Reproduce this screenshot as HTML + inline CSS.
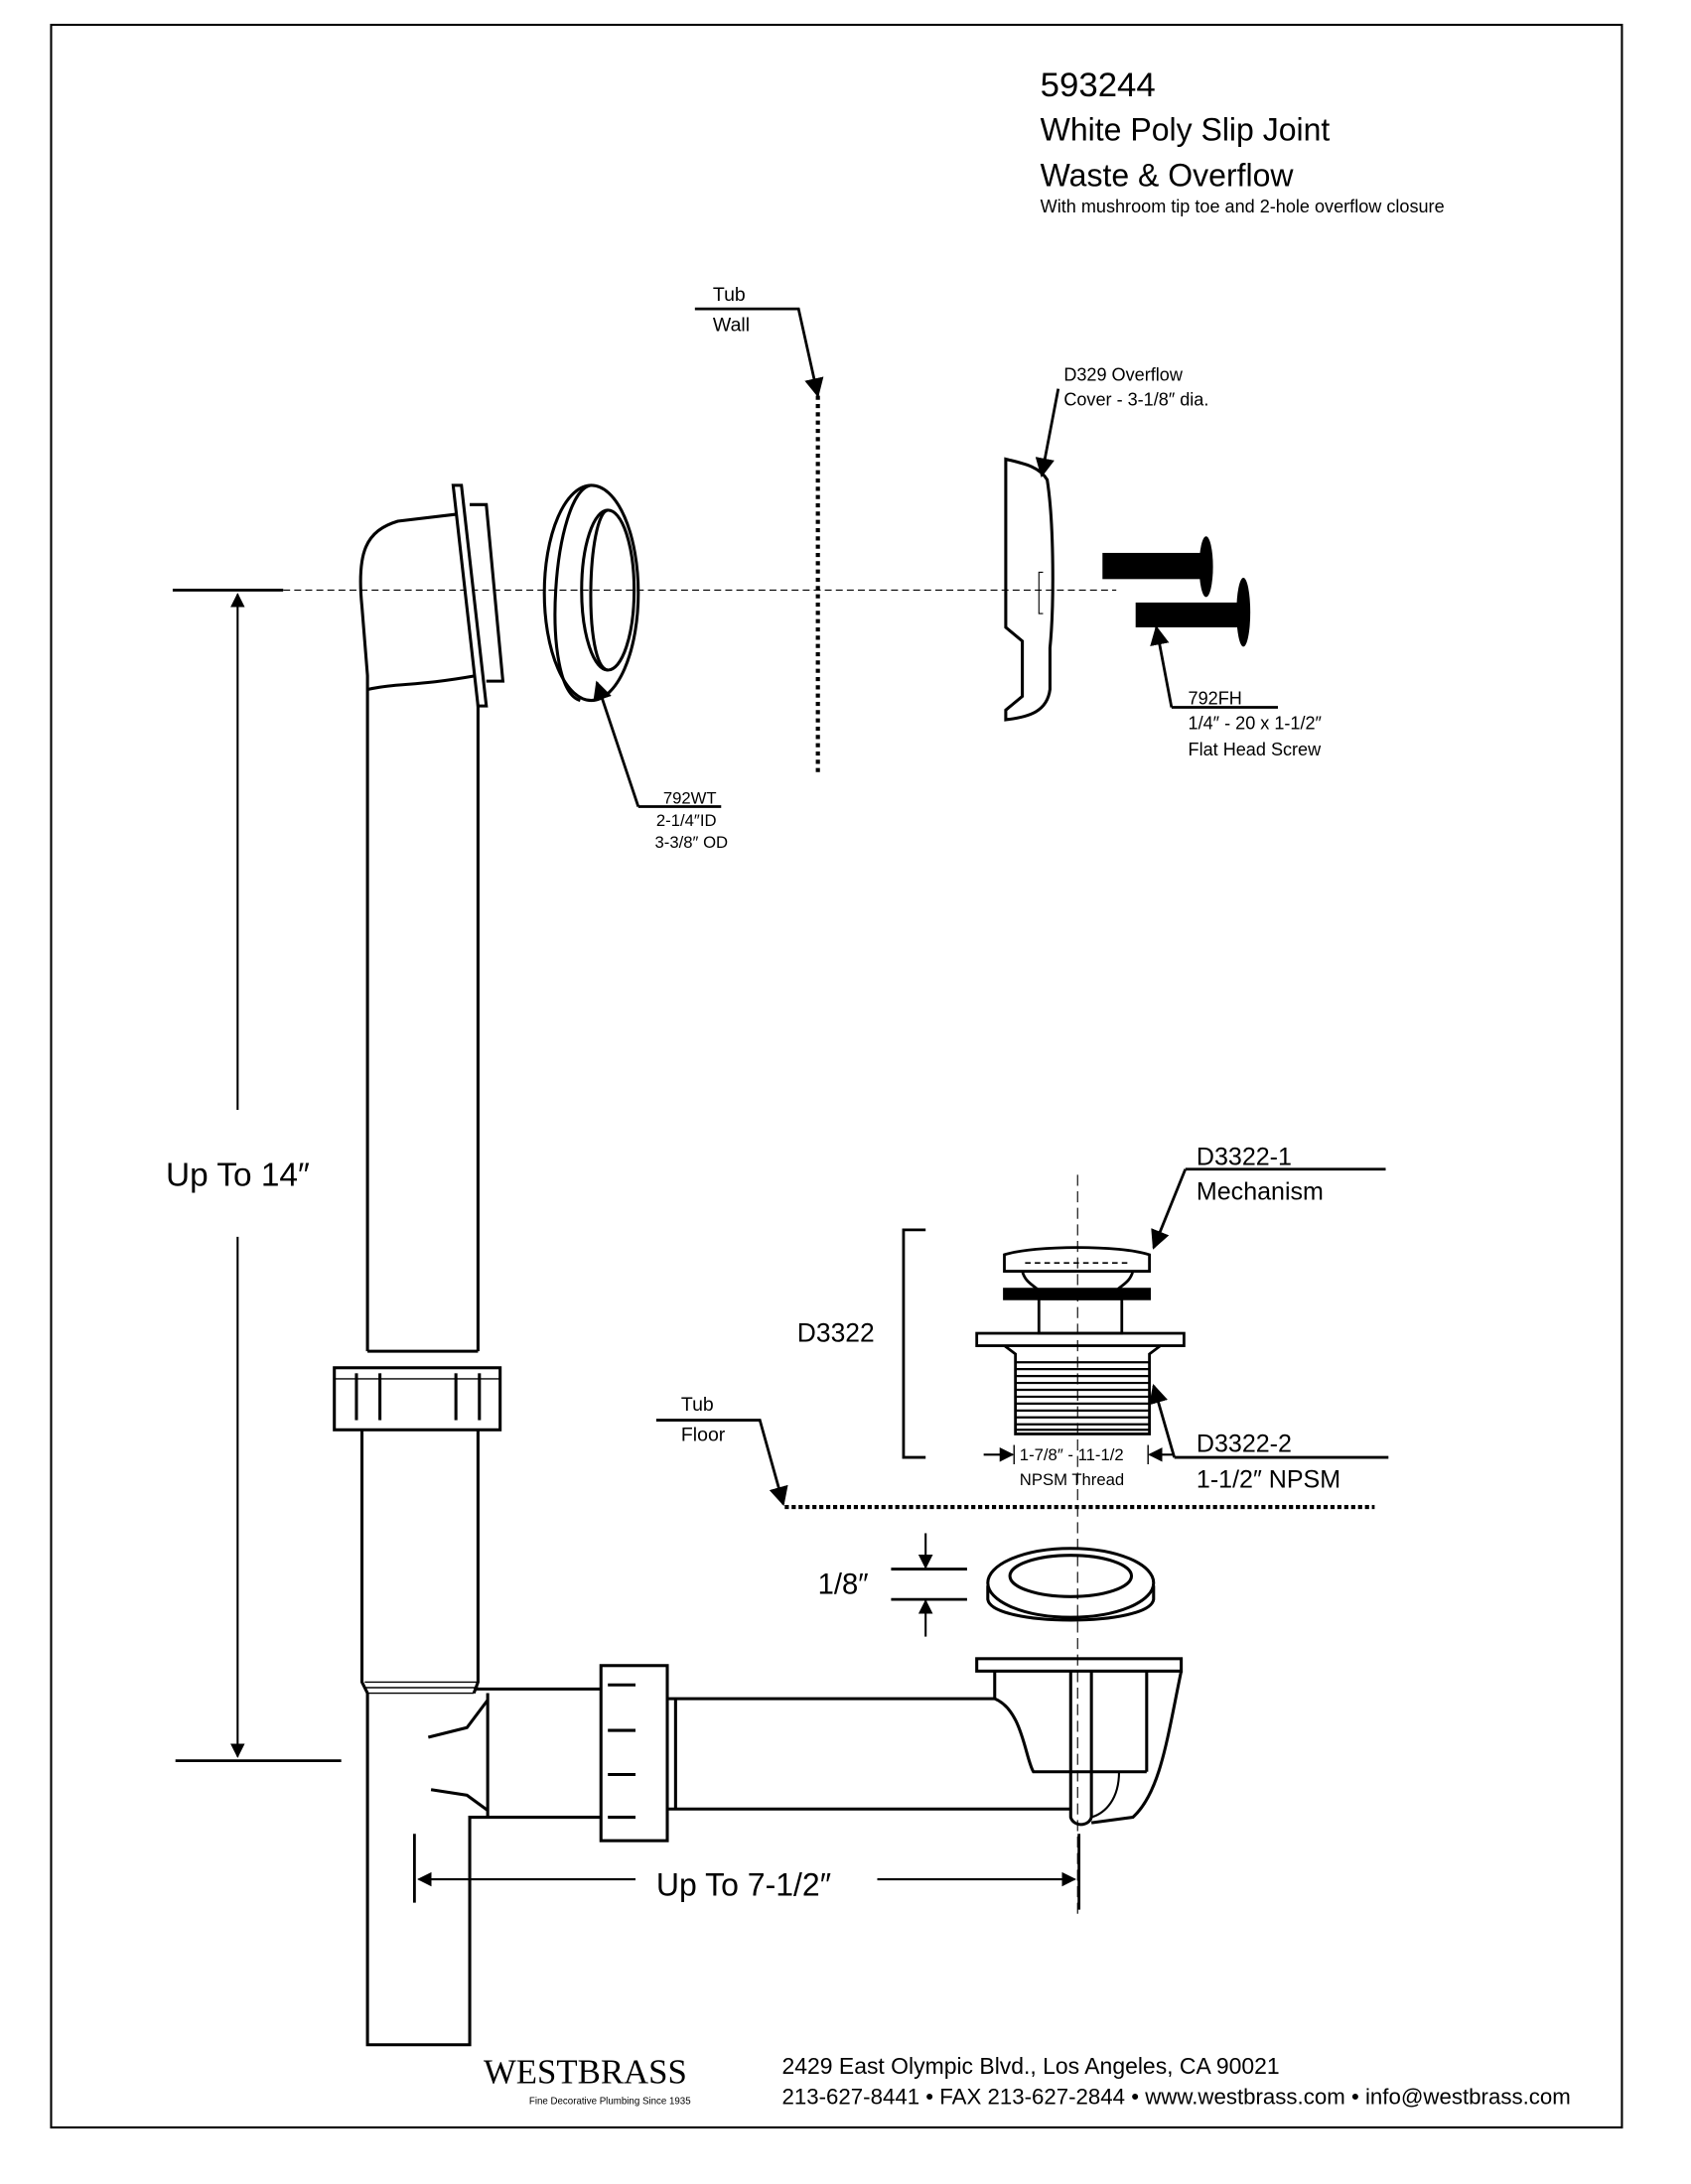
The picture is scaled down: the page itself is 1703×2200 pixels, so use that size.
<!DOCTYPE html>
<html><head><meta charset="utf-8"><style>html,body{margin:0;padding:0;background:#fff}svg{display:block}</style></head>
<body>
<svg width="1703" height="2200" viewBox="0 0 1224 1584" preserveAspectRatio="none" xmlns="http://www.w3.org/2000/svg" font-family="Liberation Sans, sans-serif" fill="none" stroke="#000">
<defs>
<marker id="ah" viewBox="0 0 10 10" refX="9" refY="5" markerWidth="7" markerHeight="7" orient="auto-start-reverse"><path d="M0,0 L10,5 L0,10 z" fill="#000" stroke="none"/></marker>
</defs>
<rect x="37" y="18" width="1137" height="1525" stroke-width="1.5"/>
<g fill="#000" stroke="none">
<text x="753" y="70" font-size="25">593244</text>
<text x="753" y="102" font-size="23">White Poly Slip Joint</text>
<text x="753" y="135" font-size="23">Waste &amp; Overflow</text>
<text x="753" y="154" font-size="13">With mushroom tip toe and 2-hole overflow closure</text>
</g>
<!-- centerline -->
<line x1="205" y1="428" x2="808" y2="428" stroke-width="0.8" stroke-dasharray="5,3"/>
<!-- dimension up to 14 -->
<line x1="125" y1="428" x2="205" y2="428" stroke-width="2"/>
<line x1="127" y1="1277" x2="247" y2="1277" stroke-width="2"/>
<line x1="172" y1="805" x2="172" y2="431" stroke-width="1.5" marker-end="url(#ah)"/>
<line x1="172" y1="897" x2="172" y2="1274" stroke-width="1.5" marker-end="url(#ah)"/>
<text x="120" y="860" font-size="24" fill="#000" stroke="none">Up To 14″</text>
<!-- elbow & pipe -->
<g stroke-width="2.2">
<path d="M266,980 L266,490 L262,440 C258,400 265,385 288,378 L330,373"/>
<path d="M266,500 C290,495 300,498 345,490"/>
<path d="M346,980 L346,498"/>
<path d="M328,352 L334,352 L352,512 L346,512 Z" fill="#fff"/>
<path d="M340,366 L352,366 L364,494 L352,494"/>
<line x1="266" y1="980" x2="346" y2="980"/>
<!-- nut -->
<rect x="242" y="992" width="120" height="45"/>
<line x1="258" y1="996" x2="258" y2="1030"/><line x1="275" y1="996" x2="275" y2="1030"/>
<line x1="330" y1="996" x2="330" y2="1030"/><line x1="347" y1="996" x2="347" y2="1030"/>
<line x1="242" y1="1000" x2="362" y2="1000" stroke-width="1"/>
<path d="M262,1037 L262,1220 L266,1228 L266,1483 L340,1483 L340,1318 L435,1318"/>
<path d="M346,1037 L346,1220 L343,1228"/>
<line x1="264" y1="1220" x2="346" y2="1220" stroke-width="1"/>
<line x1="264" y1="1224" x2="346" y2="1224" stroke-width="1"/>
<line x1="266" y1="1228" x2="343" y2="1228" stroke-width="1"/>
<path d="M343,1225 L435,1225"/>
<path d="M353,1228 L353,1318"/>
<path d="M353,1233 L338,1253 L310,1260"/>
<path d="M353,1313 L338,1302 L312,1298"/>
<rect x="435" y="1208" width="48" height="127"/>
<line x1="440" y1="1222" x2="460" y2="1222"/><line x1="440" y1="1255" x2="460" y2="1255"/><line x1="440" y1="1287" x2="460" y2="1287"/><line x1="440" y1="1318" x2="460" y2="1318"/>
<path d="M483,1232 L720,1232 C740,1240 742,1275 748,1285 L830,1285"/>
<path d="M483,1312 L775,1312"/>
<line x1="489" y1="1232" x2="489" y2="1312"/>
<rect x="707" y="1203" width="148" height="9"/>
<path d="M720,1212 L720,1232"/><path d="M830,1212 L830,1285"/>
<path d="M855,1212 C845,1260 840,1300 820,1318 L790,1322"/>
<path d="M810,1285 C810,1305 800,1315 790,1318" stroke-width="1.5"/>
<path d="M775,1212 L775,1318 C777,1325 788,1325 790,1318 L790,1212"/>
</g>
<!-- gasket 792WT -->
<g stroke-width="2.2">
<ellipse cx="428" cy="430" rx="34" ry="78"/>
<path d="M428,352 C400,355 390,500 420,508"/>
<ellipse cx="440" cy="428" rx="19" ry="58"/>
<path d="M440,370 C425,372 422,484 440,486"/>
</g>
<line x1="462" y1="585" x2="432" y2="495" stroke-width="2" marker-end="url(#ah)"/>
<line x1="462" y1="585" x2="522" y2="585" stroke-width="2"/>
<g fill="#000" stroke="none" font-size="12">
<text x="480" y="583">792WT</text><text x="475" y="599">2-1/4″ID</text><text x="474" y="615">3-3/8″ OD</text>
</g>
<!-- tub wall -->
<line x1="592" y1="287" x2="592" y2="560" stroke-width="3" stroke-dasharray="3,3"/>
<text x="516" y="218" font-size="14" fill="#000" stroke="none">Tub</text>
<text x="516" y="240" font-size="14" fill="#000" stroke="none">Wall</text>
<path d="M503,224 L578,224 L592,287" stroke-width="2" marker-end="url(#ah)"/>
<!-- overflow cover -->
<path d="M728,333 L728,455 L740,465 L740,505 L728,515 L728,522 C745,520 758,516 760,500 L760,470 C763,440 763,380 758,348 C752,338 740,336 728,333 Z" stroke-width="2.2"/>
<path d="M755,415 L752,415 L752,445 L755,445" stroke-width="0.8"/>
<g fill="#000" stroke="none" font-size="13">
<text x="770" y="276">D329 Overflow</text><text x="770" y="294">Cover - 3-1/8″ dia.</text>
</g>
<path d="M766,282 L754,345" stroke-width="2" marker-end="url(#ah)"/>
<!-- screws -->
<rect x="798" y="401" width="72" height="19" fill="#000" stroke="none"/>
<ellipse cx="873" cy="411" rx="5" ry="22" fill="#000" stroke="none"/>
<rect x="822" y="437" width="75" height="18" fill="#000" stroke="none"/>
<ellipse cx="900" cy="444" rx="5" ry="25" fill="#000" stroke="none"/>
<path d="M848,513 L837,455" stroke-width="2" marker-end="url(#ah)"/>
<line x1="848" y1="513" x2="925" y2="513" stroke-width="2"/>
<g fill="#000" stroke="none" font-size="13">
<text x="860" y="511">792FH</text><text x="860" y="529">1/4″ - 20 x 1-1/2″</text><text x="860" y="548">Flat Head Screw</text>
</g>
<!-- mechanism -->
<line x1="780" y1="852" x2="780" y2="1390" stroke-width="0.8" stroke-dasharray="8,4"/>
<g stroke-width="2">
<path d="M727,922 L727,910 C750,903 810,903 832,910 L832,922 Z"/>
<line x1="742" y1="916" x2="818" y2="916" stroke-dasharray="4,3" stroke-width="1.2"/>
<path d="M740,922 C742,930 748,932 752,936 M820,922 C818,930 812,932 808,936"/>
<rect x="727" y="935" width="105" height="7" fill="#000"/>
<rect x="752" y="942" width="60" height="25"/>
<rect x="707" y="967" width="150" height="9"/>
<path d="M727,976 L735,982 L735,1040 L832,1040 L832,982 L840,976"/>
</g>
<g stroke-width="1.6">
<line x1="735" y1="988" x2="832" y2="988"/><line x1="735" y1="993" x2="832" y2="993"/><line x1="735" y1="998" x2="832" y2="998"/><line x1="735" y1="1003" x2="832" y2="1003"/><line x1="735" y1="1008" x2="832" y2="1008"/><line x1="735" y1="1013" x2="832" y2="1013"/><line x1="735" y1="1018" x2="832" y2="1018"/><line x1="735" y1="1023" x2="832" y2="1023"/><line x1="735" y1="1028" x2="832" y2="1028"/><line x1="735" y1="1033" x2="832" y2="1033"/><line x1="735" y1="1037" x2="832" y2="1037"/>
</g>
<path d="M670,892 L654,892 L654,1057 L670,1057" stroke-width="2"/>
<text x="577" y="973" font-size="19" fill="#000" stroke="none">D3322</text>
<line x1="858" y1="848" x2="1003" y2="848" stroke-width="2"/>
<path d="M858,848 L835,905" stroke-width="2" marker-end="url(#ah)"/>
<line x1="850" y1="1057" x2="1005" y2="1057" stroke-width="2"/>
<path d="M850,1057 L835,1005" stroke-width="2" marker-end="url(#ah)"/>
<g fill="#000" stroke="none">
<text x="866" y="845" font-size="18">D3322-1</text><text x="866" y="870" font-size="18">Mechanism</text>
<text x="866" y="1053" font-size="18">D3322-2</text><text x="866" y="1079" font-size="18">1-1/2″ NPSM</text>
<text x="738" y="1059" font-size="12">1-7/8″ - 11-1/2</text><text x="738" y="1077" font-size="12">NPSM Thread</text>
</g>
<line x1="712" y1="1055" x2="733" y2="1055" stroke-width="1.5" marker-end="url(#ah)"/>
<line x1="850" y1="1055" x2="832" y2="1055" stroke-width="1.5" marker-end="url(#ah)"/>
<line x1="734" y1="1048" x2="734" y2="1062" stroke-width="1"/><line x1="831" y1="1048" x2="831" y2="1062" stroke-width="1"/>
<!-- tub floor -->
<line x1="568" y1="1093" x2="995" y2="1093" stroke-width="3" stroke-dasharray="3,2"/>
<text x="493" y="1023" font-size="14" fill="#000" stroke="none">Tub</text>
<text x="493" y="1045" font-size="14" fill="#000" stroke="none">Floor</text>
<path d="M475,1030 L550,1030 L567,1091" stroke-width="2" marker-end="url(#ah)"/>
<!-- bottom gasket -->
<g stroke-width="2.2">
<ellipse cx="775" cy="1148" rx="60" ry="25"/>
<path d="M715,1150 L715,1160 C718,1180 832,1180 835,1160 L835,1150"/>
<ellipse cx="775" cy="1143" rx="44" ry="15"/>
</g>
<text x="592" y="1156" font-size="21" fill="#000" stroke="none">1/8″</text>
<line x1="645" y1="1138" x2="700" y2="1138" stroke-width="2"/>
<line x1="645" y1="1160" x2="700" y2="1160" stroke-width="2"/>
<line x1="670" y1="1112" x2="670" y2="1137" stroke-width="1.5" marker-end="url(#ah)"/>
<line x1="670" y1="1187" x2="670" y2="1161" stroke-width="1.5" marker-end="url(#ah)"/>
<!-- up to 7-1/2 -->
<line x1="300" y1="1330" x2="300" y2="1380" stroke-width="2"/>
<line x1="781" y1="1330" x2="781" y2="1385" stroke-width="2"/>
<line x1="460" y1="1363" x2="303" y2="1363" stroke-width="1.5" marker-end="url(#ah)"/>
<line x1="635" y1="1363" x2="778" y2="1363" stroke-width="1.5" marker-end="url(#ah)"/>
<text x="475" y="1375" font-size="23" fill="#000" stroke="none">Up To 7-1/2″</text>
<!-- footer -->
<g fill="#000" stroke="none">
<text x="350" y="1511" font-size="25" font-family="Liberation Serif, serif">WESTBRASS</text>
<text x="383" y="1526" font-size="7">Fine Decorative Plumbing Since 1935</text>
<text x="566" y="1504" font-size="16.5">2429 East Olympic Blvd., Los Angeles, CA  90021</text>
<text x="566" y="1526" font-size="16">213-627-8441 • FAX 213-627-2844 • www.westbrass.com • info@westbrass.com</text>
</g>
</svg>
</body></html>
